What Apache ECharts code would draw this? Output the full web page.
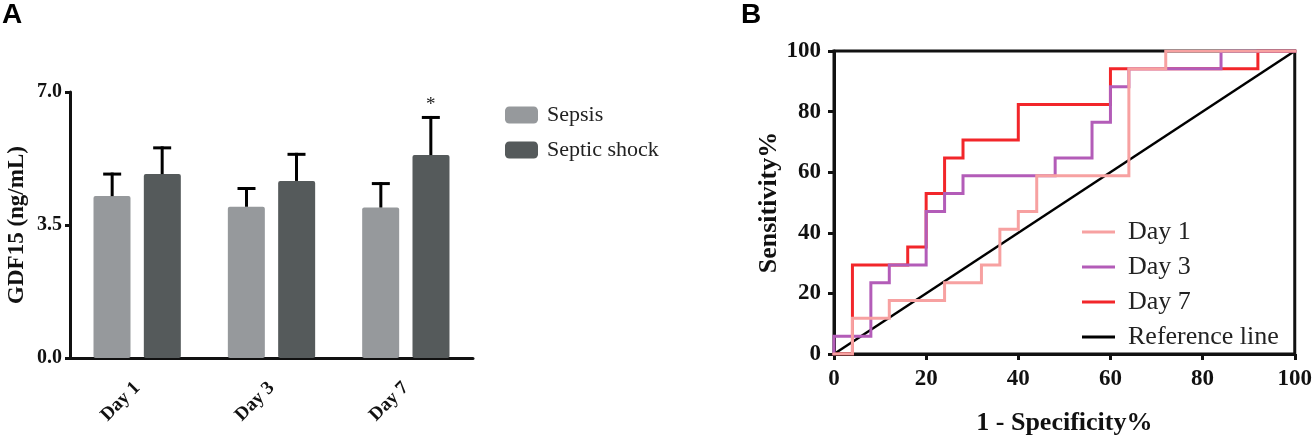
<!DOCTYPE html>
<html><head><meta charset="utf-8">
<script src="https://cdn.jsdelivr.net/npm/echarts@6/dist/echarts.min.js"></script>
<style>html,body{margin:0;padding:0;background:#fff}#c{width:1315px;height:441px}</style>
</head><body><div id="c"></div>
<script>
// ---- Panel A data ----
const days = ['Day 1', 'Day 3', 'Day 7'];
const sepsisMean = [4.26, 3.98, 3.96];
const sepsisErr  = [0.58, 0.48, 0.63];
const shockMean  = [4.84, 4.66, 5.34];
const shockErr   = [0.69, 0.70, 0.99];
const shockSig   = ['', '', '*'];
const sepsisSig  = ['', '', ''];
const yTicksA = ['0.0', '3.5', '7.0'];

// ---- Panel B data (ROC staircase vertices: [1-specificity%, sensitivity%]) ----
const rocDay1 = [[0,0],[4,0],[4,11.76],[12,11.76],[12,17.65],[24,17.65],[24,23.53],[32,23.53],[32,29.41],[36,29.41],[36,41.18],[40,41.18],[40,47.06],[44,47.06],[44,58.82],[64,58.82],[64,94.12],[72,94.12],[72,100],[100,100]];
const rocDay3 = [[0,0],[0,5.88],[8,5.88],[8,23.53],[12,23.53],[12,29.41],[20,29.41],[20,47.06],[24,47.06],[24,52.94],[28,52.94],[28,58.82],[48,58.82],[48,64.71],[56,64.71],[56,76.47],[60,76.47],[60,88.24],[64,88.24],[64,94.12],[84,94.12],[84,100],[100,100]];
const rocDay7 = [[0,0],[4,0],[4,29.41],[16,29.41],[16,35.29],[20,35.29],[20,52.94],[24,52.94],[24,64.71],[28,64.71],[28,70.59],[40,70.59],[40,82.35],[60,82.35],[60,94.12],[92,94.12],[92,100],[100,100]];
const refLine = [[0,0],[100,100]];
const xTicksB = [0, 20, 40, 60, 80, 100];

const serif = 'Liberation Serif';
const C_SEPSIS = '#96999c', C_SHOCK = '#555a5b';
const C_D1 = '#f7a1a1', C_D3 = '#b35cb8', C_D7 = '#f2262a';

function errSeries(means, errs, sig, offset) {
  return {
    type: 'custom', xAxisIndex: 0, yAxisIndex: 0, z: 5, silent: true,
    data: means.map((m, i) => [i, m, m + errs[i]]),
    encode: { x: 0, y: [1, 2] },
    renderItem(params, api) {
      const i = api.value(0);
      const p0 = api.coord([i, api.value(1)]);
      const p1 = api.coord([i, api.value(2)]);
      const x = p0[0] + offset;
      const children = [
        { type: 'line', shape: { x1: x, y1: p0[1], x2: x, y2: p1[1] - 1.5 }, style: { stroke: '#000', lineWidth: 3 } },
        { type: 'line', shape: { x1: x - 9, y1: p1[1], x2: x + 9, y2: p1[1] }, style: { stroke: '#000', lineWidth: 3 } }
      ];
      const s = sig[params.dataIndex];
      if (s) children.push({ type: 'text', x: x, y: p1[1] - 12, style: { text: s, fill: '#222', font: '19px ' + serif, align: 'center', verticalAlign: 'middle' } });
      return { type: 'group', children };
    }
  };
}

function rocSeries(name, data, color, z) {
  return {
    name, type: 'line', xAxisIndex: 1, yAxisIndex: 1, data, z,
    symbol: 'none', showSymbol: false, silent: true,
    lineStyle: { color, width: 3, cap: 'square', join: 'miter' },
    itemStyle: { color }
  };
}

const chart = echarts.init(document.getElementById('c'), null, { renderer: 'canvas' });
chart.setOption({
  animation: false,
  title: [
    { text: 'A', left: -3, top: -4, textStyle: { fontFamily: 'Liberation Sans', fontWeight: 'bold', fontSize: 28, color: '#000' } },
    { text: 'B', left: 736, top: -4, textStyle: { fontFamily: 'Liberation Sans', fontWeight: 'bold', fontSize: 28, color: '#000' } }
  ],
  legend: [
    {
      data: ['Sepsis', 'Septic shock'], orient: 'vertical', left: 500, top: 99,
      itemWidth: 33, itemHeight: 17, itemGap: 13, icon: 'roundRect', selectedMode: false,
      textStyle: { fontFamily: serif, fontSize: 22, color: '#222', lineHeight: 22, padding: [0, 0, 0, 4] }
    },
    {
      data: ['Day 1', 'Day 3', 'Day 7', 'Reference line'], orient: 'vertical', left: 1077, top: 214,
      itemWidth: 33, itemHeight: 3, itemGap: 9, icon: 'rect', selectedMode: false,
      textStyle: { fontFamily: serif, fontSize: 26, color: '#222', lineHeight: 26, padding: [0, 0, 0, 8] }
    }
  ],
  grid: [
    { left: 70, top: 92, width: 403, height: 266 },
    { left: 834, top: 51, width: 462, height: 305, show: true, borderColor: '#111', borderWidth: 3, backgroundColor: 'transparent' }
  ],
  xAxis: [
    {
      gridIndex: 0, type: 'category', data: days,
      axisLine: { lineStyle: { color: '#111', width: 3 } },
      axisTick: { alignWithLabel: true, length: 6, lineStyle: { color: '#111', width: 3 } },
      axisLabel: { rotate: 45, margin: 27, fontFamily: serif, fontWeight: 'bold', fontSize: 19, color: '#111' }
    },
    {
      gridIndex: 1, type: 'value', min: 0, max: 100, interval: 20,
      name: '1 - Specificity%', nameLocation: 'middle', nameGap: 56,
      nameTextStyle: { fontFamily: serif, fontWeight: 'bold', fontSize: 26, color: '#111' },
      axisLine: { show: true, lineStyle: { color: '#111', width: 3 } },
      axisTick: { show: true, length: 6, lineStyle: { color: '#111', width: 3 } },
      splitLine: { show: false },
      axisLabel: { margin: 14, fontFamily: serif, fontWeight: 'bold', fontSize: 23, color: '#111',
        formatter: v => xTicksB.includes(v) ? String(v) : '' }
    }
  ],
  yAxis: [
    {
      gridIndex: 0, type: 'value', min: 0, max: 7, interval: 3.5,
      name: 'GDF15 (ng/mL)', nameLocation: 'middle', nameGap: 41, nameRotate: 90,
      nameTextStyle: { fontFamily: serif, fontWeight: 'bold', fontSize: 23, color: '#111' },
      axisLine: { show: true, lineStyle: { color: '#111', width: 3 } },
      axisTick: { show: true, length: 5, lineStyle: { color: '#111', width: 3 } },
      splitLine: { show: false },
      axisLabel: { margin: 8, fontFamily: serif, fontWeight: 'bold', fontSize: 20, color: '#111',
        formatter: (v) => yTicksA[Math.round(v / 3.5)] }
    },
    {
      gridIndex: 1, type: 'value', min: 0, max: 100, interval: 20,
      name: 'Sensitivity%', nameLocation: 'middle', nameGap: 52, nameRotate: 90,
      nameTextStyle: { fontFamily: serif, fontWeight: 'bold', fontSize: 26, color: '#111' },
      axisLine: { show: true, lineStyle: { color: '#111', width: 3 } },
      axisTick: { show: true, length: 6, lineStyle: { color: '#111', width: 3 } },
      splitLine: { show: false },
      axisLabel: { margin: 13, fontFamily: serif, fontWeight: 'bold', fontSize: 23, color: '#111' }
    }
  ],
  series: [
    { name: 'Sepsis', type: 'bar', xAxisIndex: 0, yAxisIndex: 0, data: sepsisMean, barWidth: 37, barGap: '36%',
      itemStyle: { color: C_SEPSIS, borderRadius: 2 }, z: 2 },
    { name: 'Septic shock', type: 'bar', xAxisIndex: 0, yAxisIndex: 0, data: shockMean, barWidth: 37, barGap: '36%',
      itemStyle: { color: C_SHOCK, borderRadius: 2 }, z: 2 },
    errSeries(sepsisMean, sepsisErr, sepsisSig, -25),
    errSeries(shockMean, shockErr, shockSig, 25),
    { name: 'Reference line', type: 'line', xAxisIndex: 1, yAxisIndex: 1, data: refLine, z: 2,
      symbol: 'none', silent: true, lineStyle: { color: '#000', width: 2.5 }, itemStyle: { color: '#000' } },
    rocSeries('Day 7', rocDay7, C_D7, 3),
    rocSeries('Day 3', rocDay3, C_D3, 4),
    rocSeries('Day 1', rocDay1, C_D1, 5)
  ]
});
</script>
</body></html>
